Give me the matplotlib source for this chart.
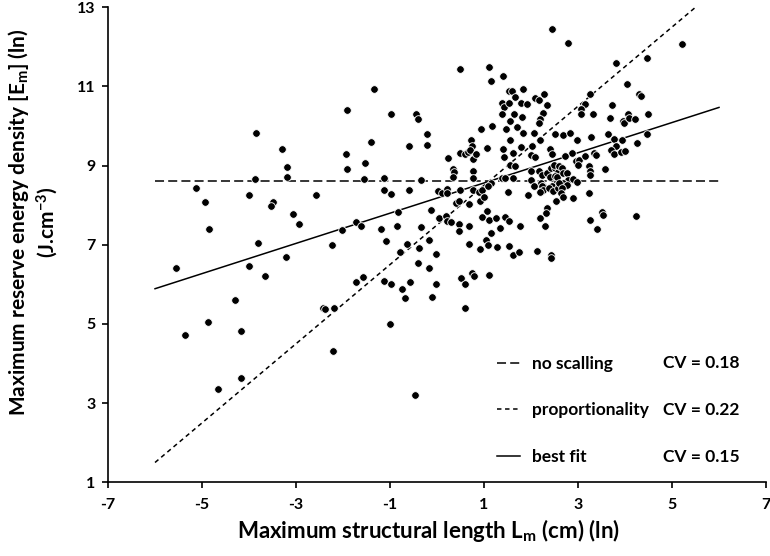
import matplotlib
matplotlib.use('Agg')
import matplotlib.pyplot as plt

# Points: ln of max structural length vs ln of max reserve energy density
L_m = [-5.13, -4.94, -4.85, -3.86, -3.87, -4.01, -3.81, -3.30, -3.20, -3.20,
       -3.50, -3.54, -3.07, -2.94, -5.56, -3.99, -3.67, -3.21, -4.30, -4.88,
       -5.37, -4.18, -4.18, -4.67,
       0.48, -1.35, -1.92, -0.98, -0.45, -0.40, -0.22, -0.22, -1.41, -0.60,
       -1.94, -1.92, -1.54, -1.56, -1.12, -1.12, -0.97, -0.60, -0.35, 0.23,
       0.48, 0.60, 0.65, 0.34, 0.37, 0.34, -2.58, 0.03, 0.10, 0.21,
       0.22, 0.48, 0.40, 0.47, 0.68, -0.82, -0.13, -1.73, -1.62, -2.02,
       -1.20, -0.86, -0.35, 0.04, 0.19, 0.22, 0.30, 0.47, 0.46, 0.68,
       -2.24, -1.09, -0.64, -0.39, -0.16, 0.68,
       -0.79, -0.03, -0.41, -0.18, -1.73, -1.58, -1.13, -0.98, -0.74, -0.68,
       -0.58, -0.03, -0.11, 0.50, 0.60, 0.59, -2.43, -2.39, -2.19, -2.22,
       -1.01, -0.47,
       1.11, 1.14, 1.40, 1.54, 1.59, 1.67, 1.82, 1.38, 1.42, 1.53,
       1.79, 1.91, 2.08, 2.16, 2.27, 2.33, 2.25, 2.20, 2.17, 1.38,
       1.63, 1.55, 1.80, 1.70, 1.46, 1.16, 0.93, 1.82, 2.07, 2.50,
       1.55, 2.20, 0.72, 0.74, 0.70, 0.76, 1.06, 1.40, 1.79, 2.02,
       2.40, 2.45, 0.83, 1.43, 1.62, 2.01, 2.08, 1.55, 1.67, 0.77,
       0.77, 1.39, 1.45, 1.61, 1.15, 2.00, 1.99, 2.16, 2.23, 2.33,
       2.43, 2.52, 2.57, 2.40, 2.50, 2.21, 2.26, 2.55, 2.57, 2.44,
       0.76, 0.90, 0.96, 1.09, 0.91, 1.01, 1.50, 1.94, 2.06, 2.23,
       2.26, 2.19, 2.39, 2.47, 2.57, 2.53, 2.35, 2.31, 2.19, 2.29,
       1.06, 0.96, 1.11, 1.26, 1.44, 1.53, 1.35, 1.15, 1.77, 1.04,
       1.08, 1.27, 0.91, 1.54, 1.61, 1.74, 2.13, 2.42, 2.43, 0.75,
       0.78, 1.11,
       2.44, 2.79, 3.80, 4.46, 4.04, 4.29, 4.33, 3.26, 3.72, 3.15,
       3.06, 3.06, 3.32, 3.69, 3.95, 3.98, 4.06, 4.09, 4.21, 4.48,
       2.68, 2.83, 2.98, 3.27, 3.63, 3.76, 3.80, 3.70, 3.93, 4.26,
       4.47, 3.77, 3.91, 3.99, 2.87, 2.73, 3.34, 3.38, 2.96, 3.03,
       3.01, 3.14, 3.23, 3.26, 3.25, 3.58, 2.49, 2.60, 2.67, 2.56,
       2.69, 2.76, 2.79, 2.69, 2.76, 2.60, 2.90, 2.97,
       2.66, 2.63, 2.69, 2.89, 3.23, 3.51, 3.54, 3.26, 3.40, 4.23,
       5.21]
E_m = [8.44, 8.09, 7.41, 9.83, 8.65, 8.26, 7.05, 9.43, 8.97, 8.72,
       8.09, 7.99, 7.79, 7.53, 6.42, 6.46, 6.22, 6.70, 5.60, 5.06,
       4.73, 4.83, 3.63, 3.35,
       11.45, 10.94, 10.41, 10.31, 10.31, 10.19, 9.81, 9.53, 9.60, 9.50,
       9.30, 8.92, 9.07, 8.65, 8.68, 8.39, 8.29, 8.39, 8.64, 9.18,
       9.32, 9.29, 9.35, 8.91, 8.83, 8.72, 8.26, 8.37, 8.32, 8.40,
       8.32, 8.39, 8.05, 8.11, 8.02, 7.82, 7.89, 7.57, 7.48, 7.38,
       7.41, 7.47, 7.44, 7.68, 7.73, 7.60, 7.58, 7.53, 7.36, 7.48,
       6.99, 7.10, 7.02, 6.91, 7.13, 7.03,
       6.81, 6.77, 6.54, 6.41, 6.07, 6.19, 6.09, 6.00, 5.88, 5.66,
       6.07, 6.01, 5.69, 6.17, 6.01, 5.40, 5.41, 5.37, 5.41, 4.32,
       5.01, 3.21,
       11.49, 11.15, 11.26, 10.88, 10.88, 10.73, 10.93, 10.59, 10.49, 10.59,
       10.59, 10.56, 10.72, 10.66, 10.82, 10.53, 10.34, 10.18, 10.07, 10.30,
       10.31, 10.13, 10.24, 9.98, 9.93, 10.01, 9.93, 9.82, 9.82, 9.81,
       9.64, 9.65, 9.64, 9.49, 9.39, 9.17, 9.45, 9.41, 9.47, 9.50,
       9.43, 9.30, 9.29, 9.21, 9.33, 9.26, 9.21, 9.02, 8.98, 8.86,
       8.69, 8.69, 8.69, 8.69, 8.57, 8.86, 8.64, 8.87, 8.76, 8.82,
       8.93, 8.95, 8.84, 8.71, 8.74, 8.57, 8.49, 8.59, 8.51, 8.49,
       8.38, 8.34, 8.39, 8.48, 8.11, 8.21, 8.33, 8.27, 8.49, 8.48,
       8.39, 8.34, 8.44, 8.37, 8.43, 8.11, 7.94, 7.80, 7.68, 7.47,
       7.86, 7.71, 7.62, 7.68, 7.71, 7.61, 7.42, 7.31, 7.47, 7.11,
       6.99, 6.95, 6.89, 6.98, 6.75, 6.82, 6.84, 6.73, 6.66, 6.29,
       6.22, 6.24,
       12.45, 12.11, 11.58, 11.73, 11.07, 10.81, 10.75, 10.82, 10.54, 10.56,
       10.42, 10.30, 10.31, 10.21, 10.13, 10.08, 10.31, 10.20, 10.19, 10.30,
       9.77, 9.82, 9.65, 9.73, 9.80, 9.66, 9.50, 9.39, 9.64, 9.58,
       9.80, 9.29, 9.34, 9.37, 9.32, 9.25, 9.33, 9.27, 9.12, 9.14,
       9.01, 9.24, 9.00, 8.87, 8.76, 8.91, 9.02, 9.00, 8.95, 8.72,
       8.81, 8.81, 8.64, 8.57, 8.51, 8.57, 8.66, 8.59,
       8.43, 8.30, 8.20, 8.19, 8.32, 7.84, 7.74, 7.63, 7.41, 7.73,
       12.06]

# The three scaling hypotheses
LineX = [-6.0, 6.0]
NoScaling = [8.6, 8.6]
PropX = [-6.0, 5.5]
Proportionality = [1.5, 13.0]
BestFit = [5.89, 10.47]
LegendNames = ["no scalling", "proportionality", "best fit"]
CVs = [0.18, 0.22, 0.15]
XTicks = [-7, -5, -3, -1, 1, 3, 5, 7]
YTicks = [1, 3, 5, 7, 9, 11, 13]

plt.rcParams['font.family'] = ['Lato', 'DejaVu Sans']
plt.rcParams['font.weight'] = 'bold'
plt.rcParams['axes.unicode_minus'] = False
plt.rcParams['mathtext.fontset'] = 'custom'
plt.rcParams['mathtext.rm'] = 'Lato:bold'
plt.rcParams['mathtext.bf'] = 'Lato:bold'
plt.rcParams['mathtext.default'] = 'bf'

fig = plt.figure(figsize=(7.7, 5.56), dpi=100)
ax = fig.add_axes([0.1403, 0.1326, 0.8545, 0.8543])

ax.scatter(L_m, E_m, s=30, c='black', edgecolors='white', linewidths=0.6, zorder=3)

lw = 1.1
h1, = ax.plot(LineX, NoScaling, color='black', lw=lw, dashes=(6.5/lw, 3.0/lw), zorder=2)
h2, = ax.plot(PropX, Proportionality, color='black', lw=lw, dashes=(3.2/lw, 2.6/lw), zorder=2)
h3, = ax.plot(LineX, BestFit, color='black', lw=lw, zorder=2)

ax.set_xlim(-7, 7)
ax.set_ylim(1, 13)
ax.set_xticks(XTicks)
ax.set_yticks(YTicks)
for s in ['top', 'right']:
    ax.spines[s].set_visible(False)
for s in ['left', 'bottom']:
    ax.spines[s].set_linewidth(1.2)
ax.tick_params(direction='out', length=4, width=1.2, labelsize=11.5)
ax.tick_params(axis='y', pad=5)
ax.tick_params(axis='x', pad=7)

leg = ax.legend([h1, h2, h3], LegendNames, loc='upper left', bbox_to_anchor=(0.591, 0.266),
                frameon=False, fontsize=12.5, handlelength=1.35, handletextpad=0.65,
                labelspacing=1.75, borderpad=0, borderaxespad=0)
CVy = [0.252, 0.152, 0.053]
for i in range(len(CVs)):
    ax.text(0.843, CVy[i], "CV = {0:.2f}".format(CVs[i]), transform=ax.transAxes,
            fontsize=12.5, ha='left', va='center')

fig.text(428/770., 1 - 531/556., r'Maximum structural length L$_{m}$ (cm) (ln)',
         fontsize=16, ha='center', va='center')
fig.text(33/770., 1 - 222/556., 'Maximum reserve energy density [E$_{m}$] (ln)\n(J.cm$^{-3}$)',
         fontsize=15, ha='center', va='center', rotation=90, multialignment='center',
         linespacing=1.15)

fig.savefig('out.png', dpi=100)
